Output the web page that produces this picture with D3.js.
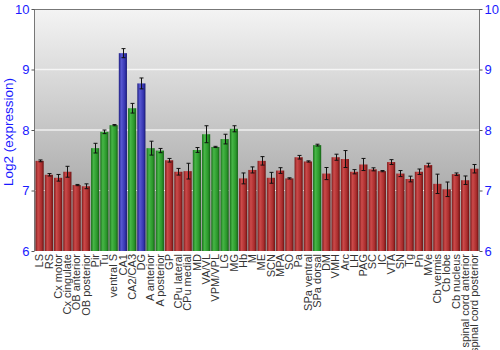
<!DOCTYPE html>
<html><head><meta charset="utf-8">
<script src="https://cdn.jsdelivr.net/npm/d3@7"></script>
<style>body{margin:0;background:#fff}svg{display:block}text{font-family:"Liberation Sans",Arial,sans-serif}</style>
</head><body><svg id="c" width="500" height="350"></svg>
<script>
const categories = ["LS","RS","Cx motor","Cx cingulate","OB anterior","OB posterior","Pir","Tu","ventral S","CA1","CA2/CA3","DG","A anterior","A posterior","GP","CPu lateral","CPu medial","MD","VA/VL","VPM/VPL","LG","MG","Hb","M","ME","SCN","MPA","SO","Pa","SPa ventral","SPa dorsal","DM","VMH","Arc","LH","PAG","SC","IC","VTA","SN","Tg","Pn","MVe","Cb vermis","Cb lobe","Cb nucleus","spinal cord anterior","spinal cord posterior"];
const values = [7.49,7.26,7.21,7.31,7.09,7.07,7.70,7.97,8.08,9.27,8.36,8.77,7.70,7.66,7.50,7.31,7.32,7.67,7.93,7.72,7.85,8.02,7.20,7.34,7.49,7.21,7.33,7.20,7.55,7.48,7.75,7.28,7.55,7.52,7.31,7.43,7.35,7.32,7.47,7.28,7.19,7.31,7.42,7.11,7.02,7.27,7.17,7.36];
const errors = [0.015,0.02,0.055,0.09,0.01,0.04,0.08,0.03,0.01,0.075,0.08,0.09,0.115,0.035,0.03,0.055,0.13,0.04,0.14,0.01,0.08,0.05,0.09,0.05,0.07,0.09,0.047,0.01,0.03,0.01,0.015,0.1,0.05,0.14,0.035,0.1,0.025,0.01,0.04,0.05,0.047,0.045,0.03,0.16,0.12,0.02,0.07,0.07];
const groups = ["r","r","r","r","r","r","g","g","g","b","g","b","g","g","r","r","r","g","g","g","g","g","r","r","r","r","r","r","r","r","g","r","r","r","r","r","r","r","r","r","r","r","r","r","r","r","r","r"];
const yTicks = [6,7,8,9,10];

const svg = d3.select("#c");
const m = {l:35, r:479, t:9, b:251};
const x = d3.scaleBand().domain(categories).range([m.l, m.r]).paddingInner(0.12).paddingOuter(0.06);
const y = d3.scaleLinear().domain([6,10]).range([m.b, m.t]);

const defs = svg.append("defs");
const bg = defs.append("linearGradient").attr("id","bg").attr("x1",0).attr("y1",0).attr("x2",0).attr("y2",1);
bg.append("stop").attr("offset",0).attr("stop-color","#f4f4f4");
bg.append("stop").attr("offset",1).attr("stop-color","#959595");
const cols = {r:["#801a1a","#cc4a4a","#a82c2c","#6a1010"], g:["#1a701a","#46b646","#2a962a","#156015"], b:["#1e1e80","#5858d2","#3535b0","#181870"]};
Object.entries(cols).forEach(([k,c])=>{
  const gr = defs.append("linearGradient").attr("id","g"+k).attr("x1",0).attr("y1",0).attr("x2",1).attr("y2",0);
  gr.append("stop").attr("offset",0).attr("stop-color",c[0]);
  gr.append("stop").attr("offset",0.3).attr("stop-color",c[1]);
  gr.append("stop").attr("offset",0.75).attr("stop-color",c[2]);
  gr.append("stop").attr("offset",1).attr("stop-color",c[3]);
});

svg.append("rect").attr("x",m.l).attr("y",m.t).attr("width",m.r-m.l).attr("height",m.b-m.t).attr("fill","url(#bg)");

// grid
[9,8].forEach(v=>svg.append("line").attr("x1",m.l).attr("x2",m.r).attr("y1",y(v)).attr("y2",y(v)).attr("stroke","#fff").attr("stroke-opacity",0.75).attr("stroke-width",1.5));
svg.append("line").attr("x1",m.l).attr("x2",m.r).attr("y1",y(7)).attr("y2",y(7)).attr("stroke","#fff").attr("stroke-dasharray","2,2").attr("stroke-width",1);

// bars
svg.selectAll("rect.bar").data(categories).join("rect").attr("class","bar")
  .attr("x",d=>x(d)).attr("width",x.bandwidth())
  .attr("y",(d,i)=>y(values[i])).attr("height",(d,i)=>y(6)-y(values[i]))
  .attr("fill",(d,i)=>"url(#g"+groups[i]+")");

// error bars
const eb = svg.append("g").attr("stroke","#111").attr("stroke-width",1);
categories.forEach((d,i)=>{
  const cx = Math.round(x(d)+x.bandwidth()/2)+0.5;
  const y1 = y(values[i]+errors[i]), y2 = y(values[i]-errors[i]);
  eb.append("line").attr("x1",cx).attr("x2",cx).attr("y1",y1).attr("y2",y2);
  eb.append("line").attr("x1",cx-2).attr("x2",cx+2).attr("y1",y1).attr("y2",y1);
  eb.append("line").attr("x1",cx-2).attr("x2",cx+2).attr("y1",y2).attr("y2",y2);
});

// frame
svg.append("line").attr("x1",m.l).attr("x2",m.r).attr("y1",m.t+0.5).attr("y2",m.t+0.5).attr("stroke","#777");
svg.append("line").attr("x1",m.l-0.5).attr("x2",m.l-0.5).attr("y1",m.t).attr("y2",m.b).attr("stroke","#777");
svg.append("line").attr("x1",m.r+0.5).attr("x2",m.r+0.5).attr("y1",m.t).attr("y2",m.b).attr("stroke","#777");

// axes
const la = svg.append("g").attr("transform",`translate(${m.l-0.5},0)`).call(d3.axisLeft(y).tickValues(yTicks).tickSize(3).tickPadding(2).tickFormat(d3.format("d")));
const ra = svg.append("g").attr("transform",`translate(${m.r+0.5},0)`).call(d3.axisRight(y).tickValues(yTicks).tickSize(3).tickPadding(2).tickFormat(d3.format("d")));
[la,ra].forEach(a=>{
  a.select(".domain").remove();
  a.selectAll("line").attr("stroke","#555");
  a.selectAll("text").attr("fill","#1a1aff").style("font-size","13px").style("font-family","Liberation Sans, Arial, sans-serif");
});

// x labels
svg.append("g").selectAll("text").data(categories).join("text")
  .attr("transform",d=>`translate(${x(d)+x.bandwidth()/2},254) rotate(-90)`)
  .attr("text-anchor","end").attr("dy","0.35em")
  .attr("fill","#333").style("font-size","11px").text(d=>d);

svg.append("text").attr("transform",`translate(13,132) rotate(-90)`).attr("text-anchor","middle")
  .attr("fill","#1a1aff").style("font-size","13.5px").text("Log2 (expression)");
</script></body></html>
